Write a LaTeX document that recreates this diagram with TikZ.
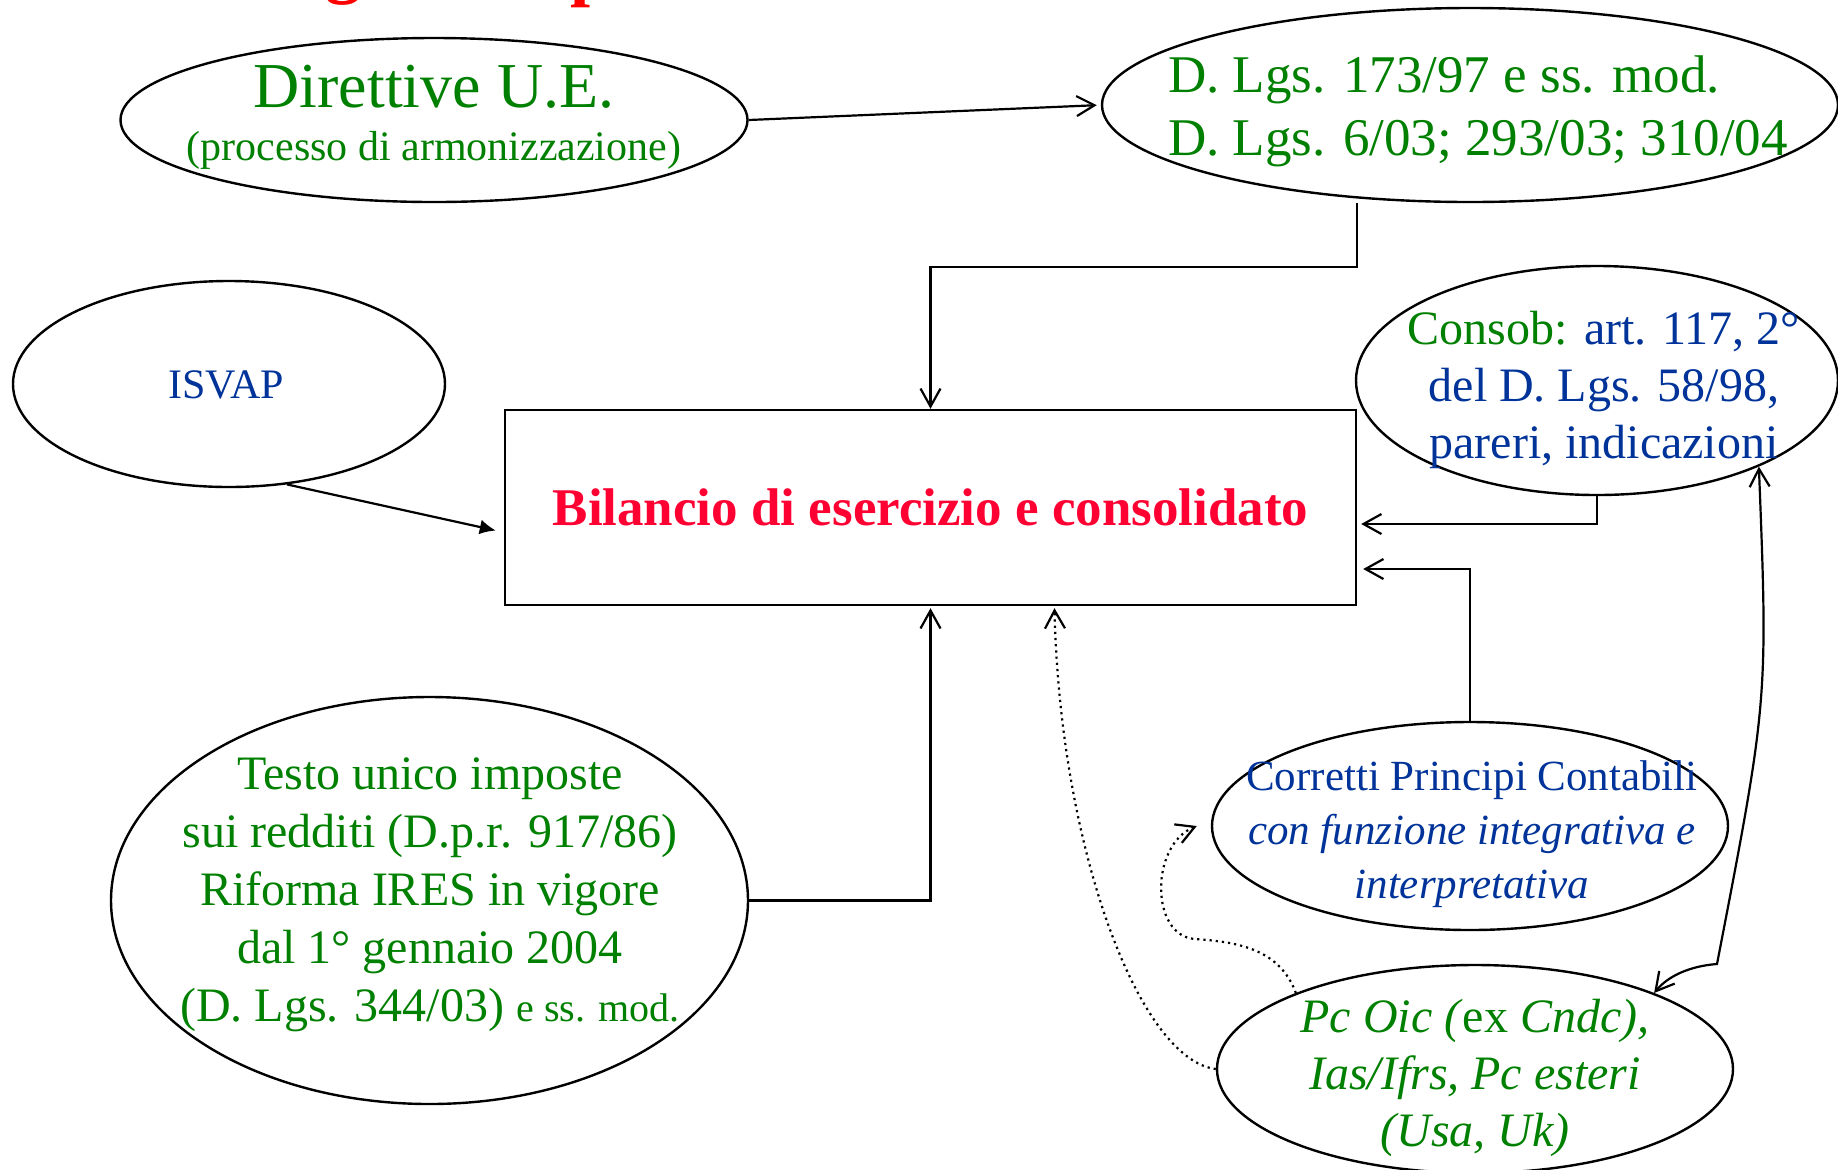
\documentclass[tikz,border=0pt]{standalone}
\usepackage{fontspec}
\setmainfont{Liberation Serif}
\usetikzlibrary{shapes.geometric,arrows.meta}
\definecolor{lawgreen}{RGB}{0,128,0}
\definecolor{lawblue}{RGB}{0,51,153}
\definecolor{titlered}{RGB}{255,0,51}
\tikzset{barb/.tip={Straight Barb[length=9pt,width=10pt]}}
\begin{document}
\begin{tikzpicture}[x=0.5pt,y=-0.5pt,
  oval/.style={draw, ellipse, line width=1.2pt, inner sep=0pt},
  conn/.style={line width=1.1pt, -barb}]
\useasboundingbox (0,0) rectangle (1838,1169);
\begin{scope}
\clip (0,0) rectangle (1838,1169);
\node[anchor=base, text=red, font=\bfseries\fontsize{36}{36}\selectfont] (title-g) at (343,-11) {g};
\node[anchor=base, text=red, font=\bfseries\fontsize{36}{36}\selectfont] (title-p) at (591,-8) {p};
\end{scope}
\node[oval, minimum width=313.5pt, minimum height=82pt] (dir) at (434,120) {};
\node[oval, minimum width=368pt, minimum height=97pt] (lgs) at (1470,105) {};
\node[oval, minimum width=216pt, minimum height=103pt] (isvap) at (229,384) {};
\node[draw, line width=1.2pt, minimum width=425.5pt, minimum height=97.5pt, text=titlered, font=\bfseries\fontsize{26.5}{30}\selectfont] (bil) at (930.5,507.5) {Bilancio di esercizio e consolidato};
\node[oval, minimum width=241pt, minimum height=114.5pt] (consob) at (1597,380.5) {};
\node[oval, minimum width=258pt, minimum height=104pt] (corr) at (1470,826) {};
\node[oval, minimum width=318.5pt, minimum height=203.5pt] (testo) at (429.5,900.5) {};
\node[oval, minimum width=258pt, minimum height=104pt] (pc) at (1475,1069) {};
\node[anchor=base, text=lawgreen, font=\fontsize{32}{32}\selectfont] (dir-a) at (434,107) {Direttive U.E.};
\node[anchor=base, text=lawgreen, font=\fontsize{21}{21}\selectfont] (dir-b) at (434,160) {(processo di armonizzazione)};
\node[text=lawgreen, align=left, font=\fontsize{26.5}{31.5}\selectfont] (lgs-t) at (1478,111) {D. Lgs. 173/97 e ss. mod.\\D. Lgs. 6/03; 293/03; 310/04};
\node[text=lawblue, font=\fontsize{21}{21}\selectfont] (isvap-t) at (226,385) {ISVAP};
\node[text=lawblue, align=center, font=\fontsize{24}{28.5}\selectfont] (consob-t) at (1604,390) {\textcolor{lawgreen}{Consob:} art. 117, 2°\\del D. Lgs. 58/98,\\pareri, indicazioni};
\node[text=lawblue, align=center, font=\fontsize{21.5}{27}\selectfont] (corr-t) at (1472,834) {Corretti Principi Contabili\\\textit{con funzione integrativa e}\\\textit{interpretativa}};
\node[text=lawgreen, align=center, font=\fontsize{24}{29}\selectfont] (testo-t) at (430,895) {Testo unico imposte\\sui redditi (D.p.r. 917/86)\\Riforma IRES in vigore\\dal 1° gennaio 2004\\(D. Lgs. 344/03) {\fontsize{20}{29}\selectfont e ss. mod.}};
\node[text=lawgreen, align=center, font=\itshape\fontsize{24}{28.5}\selectfont] (pc-t) at (1475,1078) {Pc Oic (\textup{ex} Cndc),\\Ias/Ifrs, Pc esteri\\(Usa, Uk)};
\draw[conn, shorten >=2pt] (dir.east) -- (lgs.west);
\draw[conn] (bil.east |- lgs.south) -- ++(0,64) -| (bil.north);
\draw[line width=1.1pt, -{Latex[length=8pt,width=7.5pt]}] (isvap.-60) -- ([xshift=-4pt,yshift=-11.5pt]bil.west);
\draw[conn] (consob.south) |- ([xshift=2pt,yshift=-8.25pt]bil.east);
\draw[conn] (corr.north) |- ([xshift=3pt,yshift=-30.75pt]bil.east);
\draw[conn] (testo.east) -| ([yshift=-1pt]bil.south);
\draw[line width=1.1pt, barb-barb] (consob.-28) .. controls (1768,700) .. (1717,964) .. controls (1690,966) and (1668,976) .. (pc.23);
\draw[conn, dotted] (pc.west) .. controls (1140,1060) and (1060,850) .. ([xshift=62pt,yshift=-1pt]bil.south);
\draw[conn, dotted] (pc.157) .. controls (1280,950) and (1240,942) .. (1195,939) .. controls (1150,936) and (1150,845) .. ([xshift=-7pt]corr.west);
\end{tikzpicture}
\end{document}
